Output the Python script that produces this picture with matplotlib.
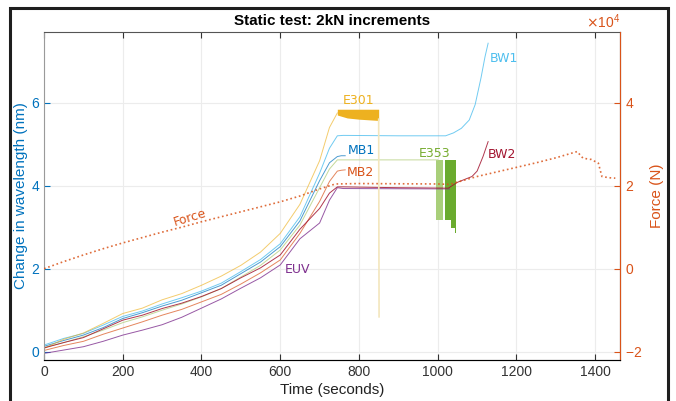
import numpy as np
import matplotlib.pyplot as plt
from matplotlib.patches import Rectangle
from matplotlib.ticker import ScalarFormatter

plt.rcParams['font.family'] = ['Liberation Sans', 'DejaVu Sans']

# rising part of every wavelength trace (seconds, nm)
t_rise = [0, 50, 100, 150, 200, 250, 300, 350, 400, 450, 500, 550, 600, 650, 700, 725, 745]
e301_rise = [0.08, 0.30, 0.45, 0.68, 0.92, 1.05, 1.25, 1.40, 1.60, 1.82, 2.08, 2.40, 2.85, 3.55, 4.60, 5.40, 5.75]
bw1_rise = [0.16, 0.32, 0.44, 0.64, 0.85, 0.98, 1.15, 1.30, 1.46, 1.65, 1.93, 2.22, 2.60, 3.25, 4.30, 4.90, 5.20]
mb1_rise = [0.13, 0.27, 0.40, 0.58, 0.80, 0.94, 1.10, 1.24, 1.42, 1.60, 1.88, 2.16, 2.53, 3.15, 4.12, 4.55, 4.70]
e353_rise = [0.10, 0.22, 0.36, 0.52, 0.70, 0.84, 1.00, 1.15, 1.32, 1.52, 1.80, 2.08, 2.45, 3.05, 3.95, 4.40, 4.62]
bw2_rise = [0.09, 0.22, 0.34, 0.55, 0.76, 0.88, 1.04, 1.17, 1.33, 1.52, 1.78, 2.02, 2.33, 2.95, 3.45, 3.82, 3.97]
mb2_rise = [0.03, 0.15, 0.25, 0.42, 0.57, 0.72, 0.88, 1.02, 1.20, 1.38, 1.63, 1.90, 2.21, 2.85, 3.62, 4.10, 4.35]
euv_rise = [-0.04, 0.04, 0.12, 0.25, 0.40, 0.52, 0.65, 0.83, 1.05, 1.27, 1.53, 1.78, 2.09, 2.72, 3.10, 3.65, 3.95]

# after the load plateau
t_bw1_late = [760, 900, 1020, 1040, 1060, 1080, 1095, 1110, 1120, 1128]
bw1_late = [5.21, 5.20, 5.20, 5.27, 5.38, 5.58, 5.95, 6.60, 7.10, 7.43]
t_bw2_late = [760, 900, 1027, 1050, 1087, 1100, 1115, 1128]
bw2_late = [3.97, 3.95, 3.94, 4.08, 4.22, 4.35, 4.70, 5.06]
t_euv_late = [760, 1030]
euv_late = [3.93, 3.92]
t_mb1_late = [755, 765]
mb1_late = [4.72, 4.72]
t_mb2_late = [755, 765]
mb2_late = [4.37, 4.38]
t_e353_late = [760, 1000]
e353_late = [4.62, 4.62]

# noisy bands
t_e301_band = [745, 770, 800, 850]
e301_top = [5.84, 5.84, 5.84, 5.84]
e301_bot = [5.70, 5.63, 5.60, 5.57]
t_e301_drop = [850, 851]
e301_drop = [5.60, 0.84]
t_e353_band_a = [996, 1013]
t_e353_band_b = [1019, 1034, 1034, 1043, 1043, 1047]
e353_band_b_bot = [3.17, 3.17, 2.98, 2.98, 2.85, 2.85]

# applied force (N)
t_force = [0, 50, 100, 150, 200, 250, 300, 350, 400, 450, 500, 550, 600, 650, 700, 740,
           800, 900, 1000, 1030, 1100, 1150, 1200, 1250, 1300, 1354, 1369, 1390, 1408,
           1417, 1435, 1451]
force_n = [0, 1700, 3300, 4800, 6200, 7500, 8800, 10000, 11300, 12500, 13700, 14900, 16100,
           17500, 19200, 20400, 20500, 20450, 20400, 20300, 22200, 23300, 24400, 25500,
           26700, 28200, 26600, 26300, 25400, 22200, 21900, 21800]

c_mb1 = '#0072BD'
c_mb2 = '#D95319'
c_e301 = '#EDB120'
c_euv = '#7E2F8E'
c_e353 = '#77AC30'
c_bw1 = '#4DBEEE'
c_bw2 = '#A2142F'

fig = plt.figure(figsize=(6.76, 4.01), dpi=100)
ax = fig.add_axes([0.0651, 0.1022, 0.8521, 0.818])
ax2 = ax.twinx()

lw = 0.7
ax.plot(t_rise + t_euv_late, euv_rise + euv_late, color=c_euv, lw=lw, alpha=0.8)
ax.plot(t_rise + t_mb2_late, mb2_rise + mb2_late, color=c_mb2, lw=lw, alpha=0.7)
ax.plot(t_rise + t_e353_late, e353_rise + e353_late, color='#c4d99a', lw=lw)
ax.plot(t_rise + t_mb1_late, mb1_rise + mb1_late, color=c_mb1, lw=lw, alpha=0.7)
ax.plot(t_rise + t_bw1_late, bw1_rise + bw1_late, color=c_bw1, lw=lw, alpha=0.8)
ax.plot(t_rise, e301_rise, color=c_e301, lw=lw, alpha=0.65)
ax.plot(t_rise + t_bw2_late, bw2_rise + bw2_late, color=c_bw2, lw=lw, alpha=0.85)

ax.fill_between(t_e301_band, e301_bot, e301_top, color=c_e301, lw=0)
ax.plot(t_e301_drop, e301_drop, color='#f3e6bd', lw=1.2)
ax.fill_between(t_e353_band_a, [3.17, 3.17], [4.62, 4.62], color='#a9cf7a', lw=0)
ax.fill_between(t_e353_band_b, e353_band_b_bot, [4.62] * len(t_e353_band_b), color='#6aab2e', lw=0)

ax2.plot(t_force, force_n, color=c_mb2, lw=1.2, ls=':', alpha=0.85)

lab = dict(fontsize=9, family='DejaVu Sans')
ax.text(1169, 7.05, 'BW1', color=c_bw1, ha='center', va='center', **lab)
ax.text(798, 6.04, 'E301', color=c_e301, ha='center', va='center', **lab)
ax.text(805, 4.84, 'MB1', color=c_mb1, ha='center', va='center', **lab)
ax.text(803, 4.31, 'MB2', color=c_mb2, ha='center', va='center', **lab)
ax.text(991, 4.78, 'E353', color=c_e353, ha='center', va='center', **lab)
ax.text(1163, 4.74, 'BW2', color=c_bw2, ha='center', va='center', **lab)
ax.text(643, 1.97, 'EUV', color=c_euv, ha='center', va='center', **lab)
ax.text(371, 3.22, 'Force', color=c_mb2, ha='center', va='center', rotation=17, **lab)

ax.set_xlim(0, 1463)
ax.set_ylim(-0.2, 7.7)
ax2.set_ylim(-22000, 57000)
ax.set_xticks([0, 200, 400, 600, 800, 1000, 1200, 1400])
ax.set_yticks([0, 2, 4, 6])
ax2.set_yticks([-20000, 0, 20000, 40000])
fmt = ScalarFormatter(useMathText=True)
fmt.set_powerlimits((0, 0))
ax2.yaxis.set_major_formatter(fmt)
ax2.yaxis.get_offset_text().set_color(c_mb2)
ax2.yaxis.get_offset_text().set_fontsize(10)

ax.grid(True, color='#ececec', lw=0.8)
ax.set_axisbelow(True)
ax.tick_params(direction='in', top=True, length=4, labelsize=10, colors='#333333')
ax.tick_params(axis='y', colors=c_mb1)
ax2.tick_params(direction='in', length=4, labelsize=10, colors=c_mb2)
for s in ['top', 'bottom']:
    ax.spines[s].set_color('#555555')
ax.spines['left'].set_color('#9a9a9a')
ax2.spines['right'].set_color(c_mb2)
ax2.spines['left'].set_visible(False)
ax2.spines['top'].set_visible(False)

ax.set_xlabel('Time (seconds)', fontsize=11, color='#222222', labelpad=3)
ax.set_ylabel('Change in wavelength (nm)', fontsize=11, color=c_mb1, labelpad=2)
ax2.set_ylabel('Force (N)', fontsize=11, color=c_mb2, labelpad=6)
ax.set_title('Static test: 2kN increments', fontsize=11, fontweight='bold', pad=5)

fig.patches.append(Rectangle((10 / 676, -0.1), 658 / 676, 1.08, transform=fig.transFigure,
                             fill=False, lw=2.2, ec='#1e1e1e'))

fig.savefig('out.png', dpi=100)
